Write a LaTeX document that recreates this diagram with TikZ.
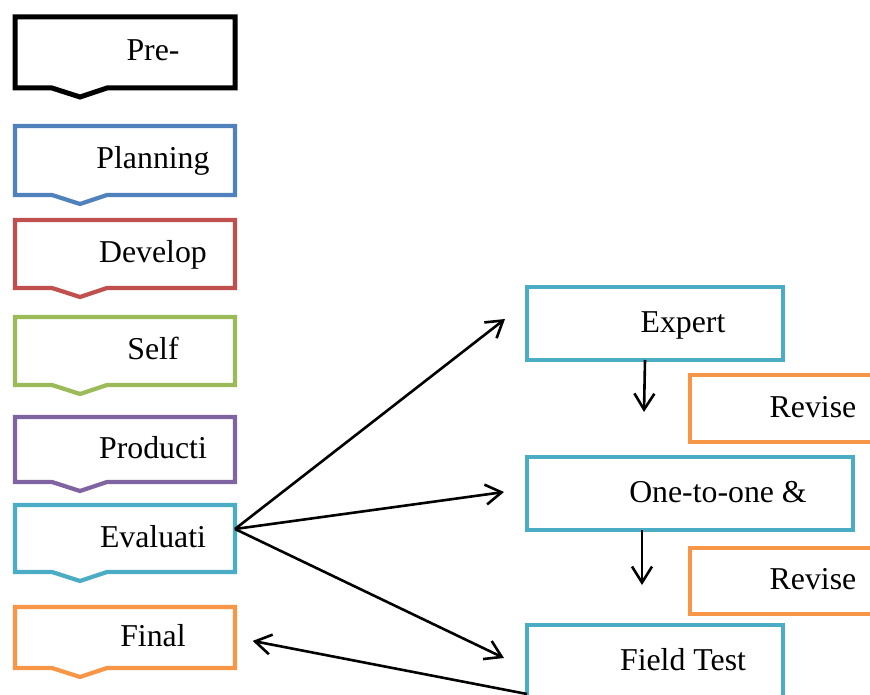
\documentclass[tikz,border=0pt]{standalone}
\usepackage{fontspec}
\setmainfont{Liberation Serif}
\usetikzlibrary{arrows.meta}
\definecolor{cblack}{HTML}{000000}
\definecolor{cblue}{HTML}{4F81BD}
\definecolor{cred}{HTML}{C0504D}
\definecolor{cgreen}{HTML}{9BBB59}
\definecolor{cpurple}{HTML}{8064A2}
\definecolor{cteal}{HTML}{4BACC6}
\definecolor{corange}{HTML}{F79646}
\newcommand\notchbox[3]{%
  \draw[#2, line width=#3, line join=miter] (#1.north west) -- (#1.north east) -- (#1.south east)
    -- ([xshift=92pt]#1.south west) -- ([xshift=65pt,yshift=-9pt]#1.south west)
    -- ([xshift=37pt]#1.south west) -- (#1.south west) -- cycle;}
\begin{document}
\begin{tikzpicture}[x=1pt,y=-1pt,
  lbl/.style={font=\fontsize{31.8}{36}\selectfont, text height=21pt, text depth=4pt,
    inner sep=0pt, outer sep=0pt},
  lbox/.style={lbl, minimum width=220pt},
  rbox/.style={lbl, draw=#1, line width=4.2pt},
  conn/.style={line width=2.6pt, -{Straight Barb[length=16pt,width=20pt]}}]
\useasboundingbox (0,0) rectangle (870,695);
\clip (0,0) rectangle (870,695);
% left column
\node[lbox, minimum height=71pt] (pre)   at (125,52.5)  {\hspace*{56pt}Pre-};
\node[lbox, minimum height=69pt] (plan)  at (125,160.5) {\hspace*{56pt}Planning};
\node[lbox, minimum height=68pt] (dev)   at (125,254)   {\hspace*{56pt}Develop};
\node[lbox, minimum height=68pt] (self)  at (125,351)   {\hspace*{56pt}Self};
\node[lbox, minimum height=65pt] (prod)  at (125,449.5) {\hspace*{56pt}Producti};
\node[lbox, minimum height=67pt] (eval)  at (125,538.5) {\hspace*{56pt}Evaluati};
\node[lbox, minimum height=61pt] (final) at (125,637.5) {\hspace*{56pt}Final};
\notchbox{pre}{cblack}{5pt}
\notchbox{plan}{cblue}{4.2pt}
\notchbox{dev}{cred}{4.2pt}
\notchbox{self}{cgreen}{4.2pt}
\notchbox{prod}{cpurple}{4.2pt}
\notchbox{eval}{cteal}{4.2pt}
\notchbox{final}{corange}{4.2pt}
% right column
\node[rbox=cteal, minimum width=256pt, minimum height=73pt] (expert) at (655,323.5) {\hspace*{56pt}Expert};
\node[rbox=corange, minimum width=190pt, minimum height=67pt] (rev1) at (785,408.5) {\hspace*{56pt}Revise};
\node[rbox=cteal, minimum width=326pt, minimum height=73pt] (one) at (690,493.5) {\hspace*{56pt}One-to-one \&};
\node[rbox=corange, minimum width=190pt, minimum height=66pt] (rev2) at (785,581) {\hspace*{56pt}Revise};
\node[rbox=cteal, minimum width=256pt, minimum height=73pt] (field) at (655,661.5) {\hspace*{56pt}Field Test};
% connector end points
\coordinate (evo) at (235,529);
\coordinate (t1) at (505,319);
\coordinate (t2) at (504,492);
\coordinate (t3) at (504,658);
\coordinate (d1) at (644,412);
\coordinate (d2) at (642,585);
\coordinate (ftc) at (527,694);
% connectors
\draw[conn] (evo) -- (t1);
\draw[conn] (evo) -- (t2);
\draw[conn] (evo) -- (t3);
\draw[conn] ([xshift=-10pt]expert.south) -- (d1);
\draw[conn] ([xshift=-48pt]one.south) -- (d2);
\draw[conn, shorten >=18pt] (ftc) -- (final.east);
\end{tikzpicture}
\end{document}
